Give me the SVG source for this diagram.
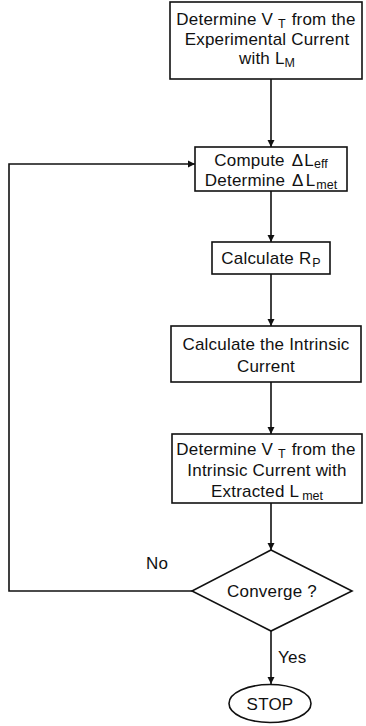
<svg xmlns="http://www.w3.org/2000/svg" width="366" height="726" viewBox="0 0 366 726">
<style>
.box{fill:#fff;stroke:#111;stroke-width:1.6}
.ln{fill:none;stroke:#111;stroke-width:1.6}
text{font-family:"Liberation Sans",Arial,sans-serif;font-size:17px;fill:#111;text-anchor:middle;letter-spacing:0.2px}
.sub{font-size:12.5px;letter-spacing:0}
.lbl{text-anchor:start}
</style>
<defs>
<marker id="ah" viewBox="0 0 10 10" refX="10" refY="5" markerWidth="7" markerHeight="10" markerUnits="userSpaceOnUse" orient="auto">
<path d="M0,0 L10,5 L0,10 Z" fill="#111"/>
</marker>
</defs>
<g id="connectors">
<line class="ln" x1="271" y1="79" x2="271" y2="147" marker-end="url(#ah)"/>
<line class="ln" x1="271" y1="191" x2="271" y2="242" marker-end="url(#ah)"/>
<line class="ln" x1="271" y1="274" x2="271" y2="326" marker-end="url(#ah)"/>
<line class="ln" x1="271" y1="382" x2="271" y2="434" marker-end="url(#ah)"/>
<line class="ln" x1="271" y1="503" x2="271" y2="550" marker-end="url(#ah)"/>
<line class="ln" x1="271" y1="631" x2="271" y2="684" marker-end="url(#ah)"/>
<polyline class="ln" points="192,591 9,591 9,164 195,164" marker-end="url(#ah)"/>
<text class="lbl" x="146" y="569">No</text>
<text class="lbl" x="278" y="663">Yes</text>
</g>
<g id="n1">
<rect class="box" x="170" y="2" width="192" height="77"/>
<text x="266" y="25">Determine V<tspan class="sub" dx="5" dy="3">T</tspan><tspan dx="6" dy="-3">from the</tspan></text>
<text x="267" y="45">Experimental Current</text>
<text x="267" y="64">with L<tspan class="sub" dy="3">M</tspan></text>
</g>
<g id="n2">
<rect class="box" x="195" y="147" width="152" height="44"/>
<text x="271" y="166">Compute<tspan dx="7">Δ</tspan><tspan dx="1">L</tspan><tspan class="sub" dy="2">eff</tspan></text>
<text x="271" y="186">Determine<tspan dx="7">Δ</tspan><tspan dx="2">L</tspan><tspan class="sub" dx="1" dy="3">met</tspan></text>
</g>
<g id="n3">
<rect class="box" x="212" y="242" width="118" height="32"/>
<text x="271" y="264">Calculate R<tspan class="sub" dx="1" dy="3">P</tspan></text>
</g>
<g id="n4">
<rect class="box" x="171" y="326" width="190" height="56"/>
<text x="266" y="350">Calculate the Intrinsic</text>
<text x="266" y="372">Current</text>
</g>
<g id="n5">
<rect class="box" x="172" y="434" width="190" height="69"/>
<text x="266" y="455">Determine V<tspan class="sub" dx="5" dy="3">T</tspan><tspan dx="6" dy="-3">from the</tspan></text>
<text x="267" y="476">Intrinsic Current with</text>
<text x="267" y="497">Extracted L<tspan class="sub" dx="3" dy="3">met</tspan></text>
</g>
<g id="n6">
<polygon class="box" points="271,550 352,591 271,631 192,591"/>
<text x="272" y="597">Converge ?</text>
</g>
<g id="n7">
<ellipse class="box" cx="270" cy="703.5" rx="41" ry="19"/>
<text x="270" y="710">STOP</text>
</g>
</svg>
